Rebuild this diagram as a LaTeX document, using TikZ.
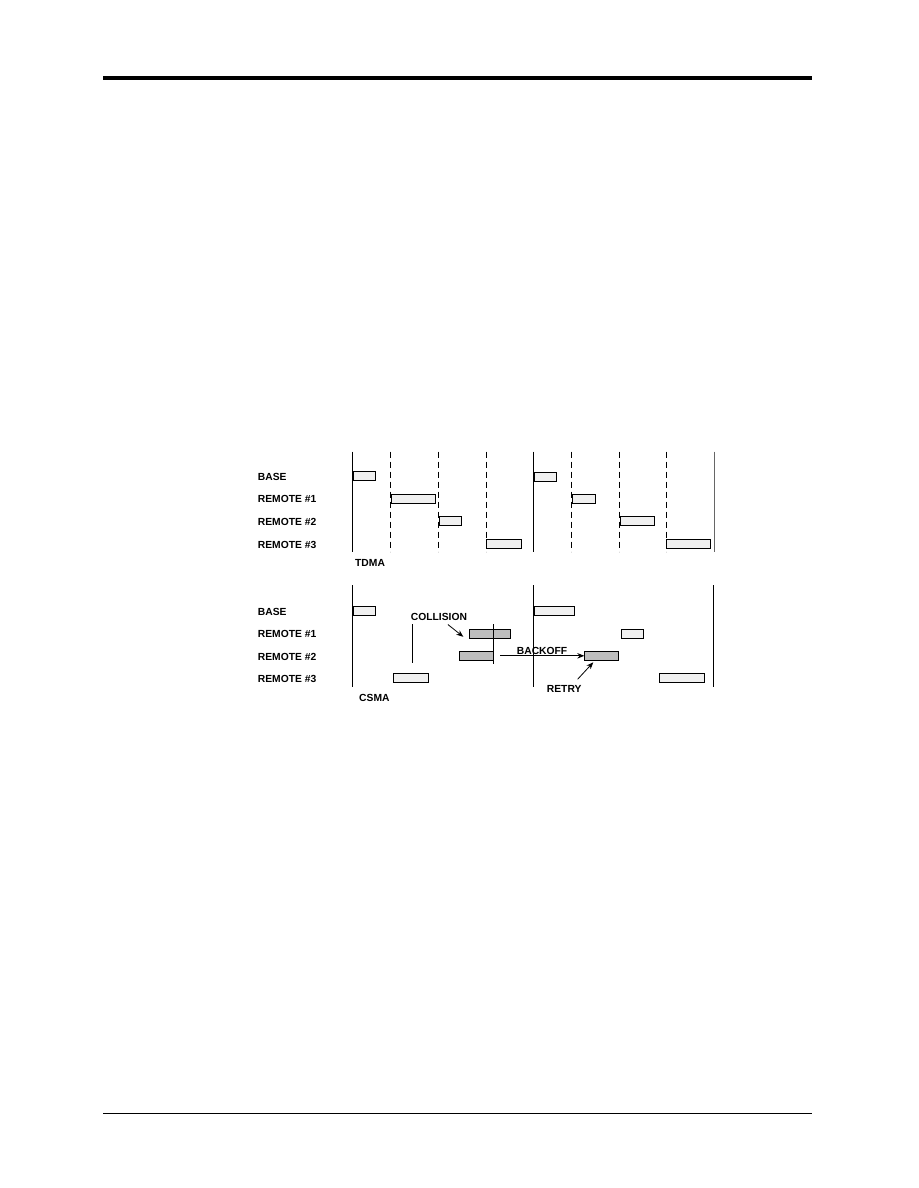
\documentclass[tikz,border=0pt]{standalone}
\usepackage{fontspec}
\setmainfont{Liberation Sans}
\usetikzlibrary{arrows.meta}

\definecolor{slotlight}{RGB}{240,240,240}
\definecolor{slotdark}{RGB}{190,190,190}

\tikzset{
  lbl/.style={anchor=west, inner sep=1pt, font=\bfseries\fontsize{10.3}{12}\selectfont},
  slot/.style={draw, line width=0.9pt, fill=slotlight, anchor=north west, inner sep=0pt, outer sep=0pt, minimum height=9pt},
  hitslot/.style={slot, fill=slotdark},
  tick/.style={line width=0.8pt},
  dashtick/.style={line width=0.8pt, dash pattern=on 6pt off 4pt},
  arr/.style={line width=0.8pt, -{Stealth[length=7pt,width=5.5pt]}}
}

\begin{document}
\begin{tikzpicture}[x=1pt, y=-1pt]
    \useasboundingbox (0,0) rectangle (918,1188);

    \draw[line width=4pt] (103,78) -- (812,78);
    \draw[line width=1pt] (103,1113) -- (812,1113);

    % TDMA
    \node[lbl] (tbase) at (256.7,476.7) {BASE};
    \node[lbl] (tr1) at (256.7,499) {REMOTE \#1};
    \node[lbl] (tr2) at (256.7,522.2) {REMOTE \#2};
    \node[lbl] (tr3) at (256.7,545) {REMOTE \#3};
    \node[lbl] (tdma) at (354,563.3) {TDMA};

    \draw[tick] (352.7,451.7) -- (352.7,551.7);
    \draw[tick] (533.3,451.7) -- (533.3,551.7);
    \draw[tick, black!60] (714,451.7) -- (714,551.7);
    \foreach \x in {390.7,438.7,486.7,571.7,619.3,666.7}
        \draw[dashtick] (\x,451.7) -- (\x,551.7);

    \node[slot, minimum width=22.4pt] (ta0) at (353.3,471.7) {};
    \node[slot, minimum width=44.3pt] (ta1) at (391,494.3) {};
    \node[slot, minimum width=22.3pt] (ta2) at (439,516.3) {};
    \node[slot, minimum width=35pt] (ta3) at (486.7,539.3) {};
    \node[slot, minimum width=22.3pt] (tb0) at (534,472.3) {};
    \node[slot, minimum width=23pt] (tb1) at (572.3,494.3) {};
    \node[slot, minimum width=34pt] (tb2) at (620.3,516.3) {};
    \node[slot, minimum width=43.6pt] (tb3) at (666.7,539.3) {};

    % CSMA
    \node[lbl] (cbase) at (256.7,611.7) {BASE};
    \node[lbl] (cr1) at (256.7,634.3) {REMOTE \#1};
    \node[lbl] (cr2) at (256.7,657.2) {REMOTE \#2};
    \node[lbl] (cr3) at (256.7,679) {REMOTE \#3};
    \node[lbl] (csma) at (358,697.7) {CSMA};

    \draw[tick] (352.7,585) -- (352.7,686.7);
    \draw[tick] (533.3,585) -- (533.3,686.7);
    \draw[tick] (713.3,585) -- (713.3,686.7);
    \draw[tick] (412.3,624) -- (412.3,663.3);

    \node[slot, minimum width=22.4pt] (ca0) at (353.3,606.7) {};
    \node[slot, minimum width=40pt] (cb0) at (534.3,606.7) {};
    \node[hitslot, minimum width=41pt] (hit1) at (469.3,629.3) {};
    \node[slot, minimum width=22pt] (cb1) at (621.7,629.3) {};
    \node[hitslot, minimum width=34pt] (hit2) at (459.3,651.3) {};
    \node[hitslot, minimum width=34pt] (retryslot) at (584.3,651.3) {};
    \node[slot, minimum width=35pt] (ca3) at (393.3,673.7) {};
    \node[slot, minimum width=45pt] (cb3) at (659.3,673.7) {};

    \draw[tick] (493.7,624) -- (493.7,664);

    \node[lbl] (coll) at (409.7,616.7) {COLLISION};
    \node[lbl] (backoff) at (515.7,650.5) {BACKOFF};
    \node[lbl] (retry) at (545.7,689) {RETRY};

    \draw[arr] ([shift={(9,3)}]coll.south) -- ([shift={(-6,3)}]hit1.west);
    \draw[arr] ([xshift=7pt]hit2.east) -- (retryslot.west);
    \draw[arr] ([shift={(-5,-5)}]retry.north east) -- ([shift={(9,2)}]retryslot.south west);
\end{tikzpicture}
\end{document}
